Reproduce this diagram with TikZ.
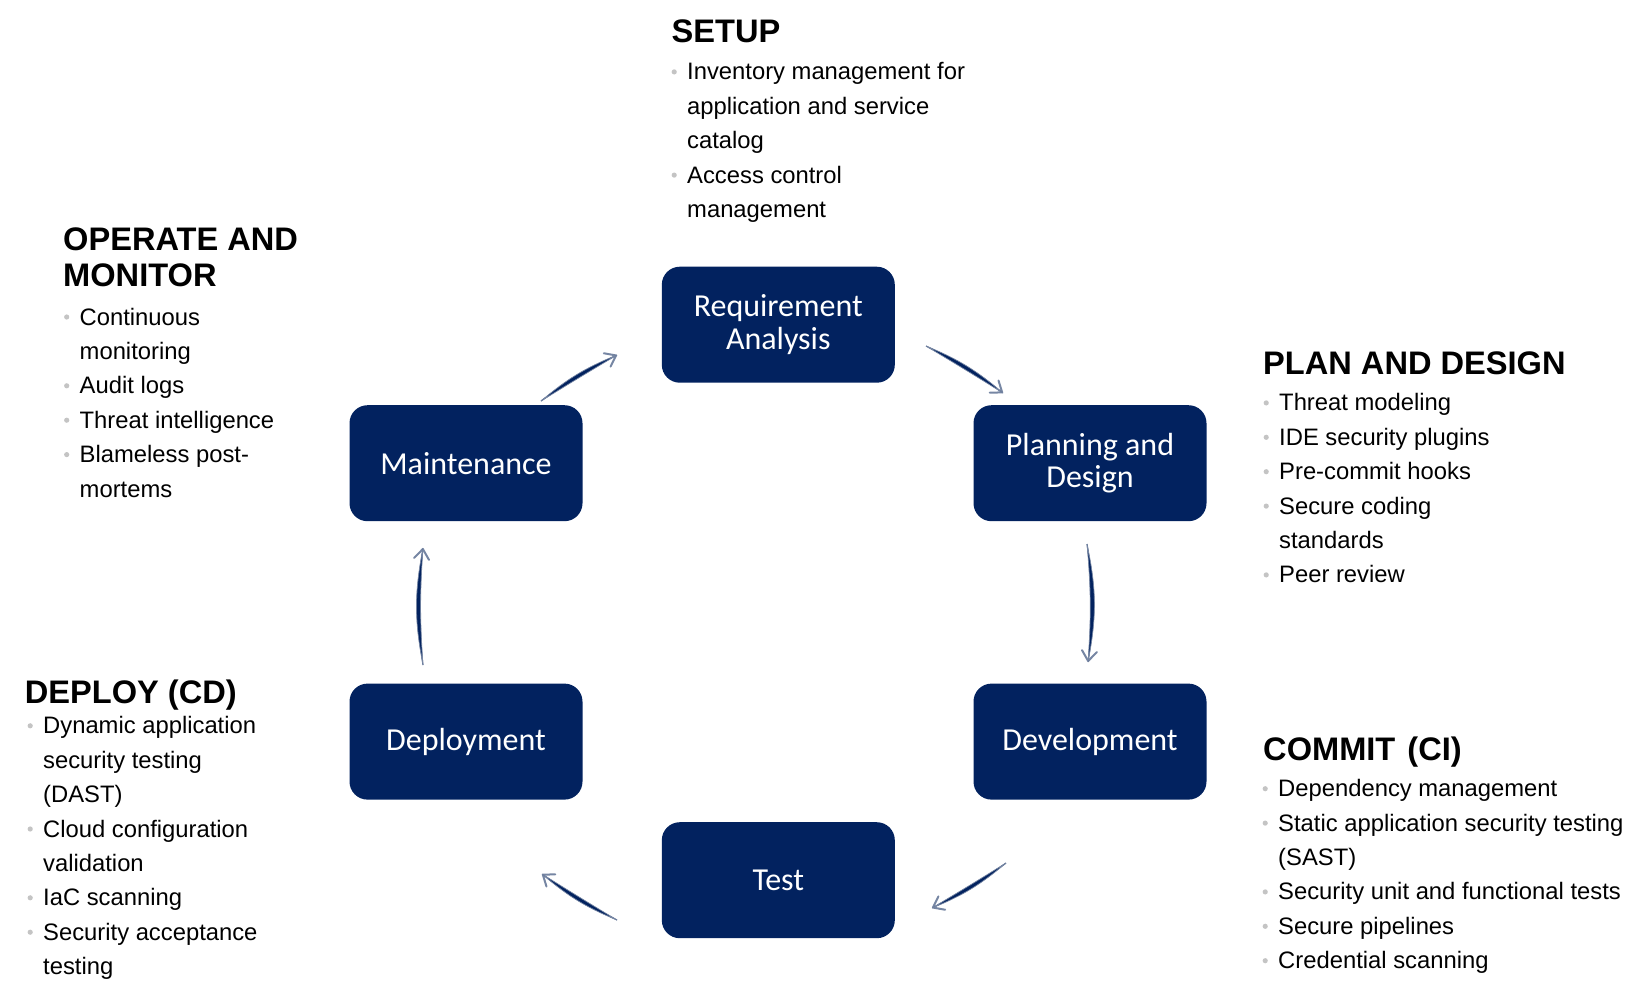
\documentclass[tikz,border=0pt]{standalone}
\usepackage{fontspec}
\setmainfont{Liberation Sans}
\newfontfamily\boxfont{Carlito}
\usetikzlibrary{arrows.meta}
\definecolor{navy}{RGB}{2,34,95}
\definecolor{arrgrey}{RGB}{118,134,163}
\definecolor{bulgrey}{RGB}{196,196,196}
\newcommand\bul{\makebox[16pt][l]{\hspace{0.4pt}\tikz[baseline=-8pt]\fill[bulgrey] (0,0) circle (2.6pt);}}
\newcommand\ind{\hspace*{16pt}}
\tikzset{
  stage/.style={fill=navy, rounded corners=18pt, minimum width=233pt, minimum height=116pt,
    text=white, font=\boxfont\fontsize{32}{32.5}\selectfont, align=center, inner sep=0pt},
  head/.style={anchor=base west, inner sep=0pt, font=\bfseries\fontsize{32.6}{36.5}\selectfont},
  itemlist/.style={anchor=base west, inner sep=0pt, font=\fontsize{23.8}{34.4}\selectfont},
  arrowline/.style={draw=arrgrey, line width=1.3pt, -{Straight Barb[length=10pt,width=15pt,line width=2pt,round]}},
  lens/.style={fill=navy, draw=arrgrey, line width=0.7pt}
}
\begin{document}
\begin{tikzpicture}[x=1pt,y=-1pt]
\useasboundingbox (0,0) rectangle (1647,997);

% stage boxes
\node[stage] (req)   at (778.3,324.7) {Requirement\\Analysis};
\node[stage] (plan)  at (1090,463.2)  {Planning and\\Design};
\node[stage] (dev)   at (1090,741.6)  {Development};
\node[stage] (test)  at (778.3,880.2) {Test};
\node[stage] (dep)   at (466,741.6)   {Deployment};
\node[stage] (maint) at (466,463.2)   {Maintenance};

% arrow end points
\coordinate (a1s) at (541,401);  \coordinate (a1e) at (617,355);
\coordinate (a2s) at (926,346);  \coordinate (a2e) at (1003,393);
\coordinate (a3s) at (1087,544); \coordinate (a3e) at (1088,662);
\coordinate (a4s) at (1006,863); \coordinate (a4e) at (932,908);
\coordinate (a5s) at (617,920);  \coordinate (a5e) at (542,874);
\coordinate (a6s) at (423,665);  \coordinate (a6e) at (423,548);

\draw[arrowline] (a1s) to[bend left=4.5] (a1e);
\filldraw[lens] (a1s) to[bend left=9] (a1e) to[bend right=0.5] (a1s);
\draw[arrowline] (a2s) to[bend left=4.5] (a2e);
\filldraw[lens] (a2s) to[bend left=9] (a2e) to[bend right=0.5] (a2s);
\draw[arrowline] (a3s) to[bend left=8] (a3e);
\filldraw[lens] (a3s) to[bend left=11.5] (a3e) to[bend right=4.5] (a3s);
\draw[arrowline] (a4s) to[bend left=4.5] (a4e);
\filldraw[lens] (a4s) to[bend left=9] (a4e) to[bend right=0.5] (a4s);
\draw[arrowline] (a5s) to[bend left=4.5] (a5e);
\filldraw[lens] (a5s) to[bend left=9] (a5e) to[bend right=0.5] (a5s);
\draw[arrowline] (a6s) to[bend left=7.5] (a6e);
\filldraw[lens] (a6s) to[bend left=11] (a6e) to[bend right=4] (a6s);

% SETUP
\node[head] (hSetup) at (671.5,42.7) {SETUP};
\node[itemlist] (lSetup) at (671,79.9) {\begin{tabular}[t]{@{}l@{}}
\bul Inventory management for\\
\ind application and service\\
\ind catalog\\
\bul Access control\\
\ind management
\end{tabular}};

% OPERATE AND MONITOR
\node[head] (hOper) at (63,250) {\begin{tabular}[t]{@{}l@{}}OPERATE AND\\MONITOR\end{tabular}};
\node[itemlist] (lOper) at (63.5,325) {\begin{tabular}[t]{@{}l@{}}
\bul Continuous\\
\ind monitoring\\
\bul Audit logs\\
\bul Threat intelligence\\
\bul Blameless post-\\
\ind mortems
\end{tabular}};

% PLAN AND DESIGN
\node[head] (hPlan) at (1263,374.1) {PLAN AND DESIGN};
\node[itemlist] (lPlan) at (1263,410.9) {\begin{tabular}[t]{@{}l@{}}
\bul Threat modeling\\
\bul IDE security plugins\\
\bul Pre-commit hooks\\
\bul Secure coding\\
\ind standards\\
\bul Peer review
\end{tabular}};

% DEPLOY (CD)
\node[head] (hDep) at (24.7,703.5) {DEPLOY (CD)};
\node[itemlist] (lDep) at (27,733.8) {\begin{tabular}[t]{@{}l@{}}
\bul Dynamic application\\
\ind security testing\\
\ind (DAST)\\
\bul Cloud configuration\\
\ind validation\\
\bul IaC scanning\\
\bul Security acceptance\\
\ind testing
\end{tabular}};

% COMMIT (CI)
\node[head] (hCom) at (1263,760.7) {COMMIT\hspace{3pt} (CI)};
\node[itemlist] (lCom) at (1262,796.7) {\begin{tabular}[t]{@{}l@{}}
\bul Dependency management\\
\bul Static application security testing\\
\ind (SAST)\\
\bul Security unit and functional tests\\
\bul Secure pipelines\\
\bul Credential scanning
\end{tabular}};
\end{tikzpicture}
\end{document}
